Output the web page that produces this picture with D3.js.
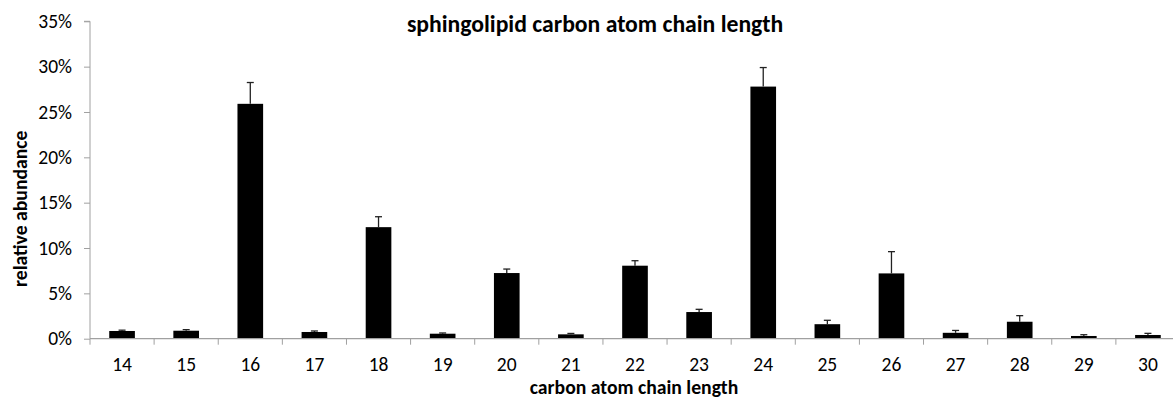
<!DOCTYPE html>
<html>
<head>
<meta charset="utf-8">
<script src="https://cdn.jsdelivr.net/npm/d3@7/dist/d3.min.js"></script>
<style>
  html, body { margin: 0; padding: 0; background: #fff; }
  svg { display: block; font-family: Carlito, Calibri, "Open Sans", "Liberation Sans", sans-serif; }
</style>
</head>
<body>
<svg id="chart" width="1173" height="398"></svg>
<script>
// Chain lengths and mean relative abundance (%) with upper error (%)
const chainLengths = ["14","15","16","17","18","19","20","21","22","23","24","25","26","27","28","29","30"];
const abundance = [0.85, 0.88, 25.9, 0.74, 12.3, 0.55, 7.24, 0.48, 8.05, 2.94, 27.8, 1.6, 7.2, 0.65, 1.87, 0.3, 0.41];
const errorUp   = [0.09, 0.12, 2.35, 0.11, 1.15, 0.08, 0.44, 0.1, 0.55, 0.3, 2.1, 0.43, 2.4, 0.26, 0.67, 0.14, 0.18];
const yTicks = [0, 5, 10, 15, 20, 25, 30, 35];

const svg = d3.select("#chart");
const plotLeft = 90, plotRight = 1180, plotTop = 21.3, plotBottom = 338.7;

const x = d3.scaleBand().domain(chainLengths).range([plotLeft, plotRight]).paddingInner(0.6).paddingOuter(0.3);
const y = d3.scaleLinear().domain([0, 35]).range([plotBottom, plotTop]);
const bandStep = (plotRight - plotLeft) / chainLengths.length;

const axisColor = "#a0a0a0";
const tickFont = 19.5;

// bars
svg.append("g").selectAll("rect").data(chainLengths).join("rect")
  .attr("x", d => x(d))
  .attr("y", (d, i) => y(abundance[i]))
  .attr("width", x.bandwidth())
  .attr("height", (d, i) => y(0) - y(abundance[i]))
  .attr("fill", "#000");

// upper error whiskers
const eb = svg.append("g").attr("stroke", "#222").attr("stroke-width", 1.3);
chainLengths.forEach((d, i) => {
  const cx = x(d) + x.bandwidth() / 2;
  eb.append("line").attr("x1", cx).attr("x2", cx)
    .attr("y1", y(abundance[i])).attr("y2", y(abundance[i] + errorUp[i]));
  eb.append("line").attr("x1", cx - 3.5).attr("x2", cx + 3.5)
    .attr("y1", y(abundance[i] + errorUp[i])).attr("y2", y(abundance[i] + errorUp[i]));
});

// y axis
const yAxis = d3.axisLeft(y).tickValues(yTicks).tickSize(6).tickPadding(12).tickFormat(d => d + "%");
const gy = svg.append("g").attr("transform", `translate(${plotLeft},0)`).call(yAxis);
gy.attr("font-family", null).attr("font-size", null);
gy.select(".domain").attr("stroke", axisColor).attr("d", `M-6,${plotTop}H0V${plotBottom}`);
gy.selectAll(".tick line").attr("stroke", axisColor);
gy.selectAll(".tick text").attr("fill", "#000").attr("font-size", tickFont);

// x axis: ticks at band boundaries
const gx = svg.append("g").attr("transform", `translate(0,${plotBottom})`);
gx.append("line").attr("x1", plotLeft).attr("x2", plotRight).attr("y1", 0).attr("y2", 0).attr("stroke", axisColor).attr("stroke-width", 1.3);
d3.range(chainLengths.length + 1).forEach(k => {
  gx.append("line").attr("x1", plotLeft + k * bandStep).attr("x2", plotLeft + k * bandStep)
    .attr("y1", 0).attr("y2", 6).attr("stroke", axisColor);
});
gx.selectAll("text").data(chainLengths).join("text")
  .attr("x", d => x(d) + x.bandwidth() / 2)
  .attr("y", 32.3)
  .attr("text-anchor", "middle")
  .attr("font-size", tickFont)
  .text(d => d);

// title and axis titles
svg.append("text").attr("x", 595).attr("y", 32).attr("text-anchor", "middle")
  .attr("font-size", 23.7).attr("font-weight", "bold").text("sphingolipid carbon atom chain length");
svg.append("text").attr("x", 634).attr("y", 394).attr("text-anchor", "middle")
  .attr("font-size", 19.7).attr("font-weight", "bold").text("carbon atom chain length");
svg.append("text").attr("transform", "translate(27,287) rotate(-90)").attr("text-anchor", "start")
  .attr("font-size", 19.7).attr("font-weight", "bold").text("relative abundance");
</script>
</body>
</html>
